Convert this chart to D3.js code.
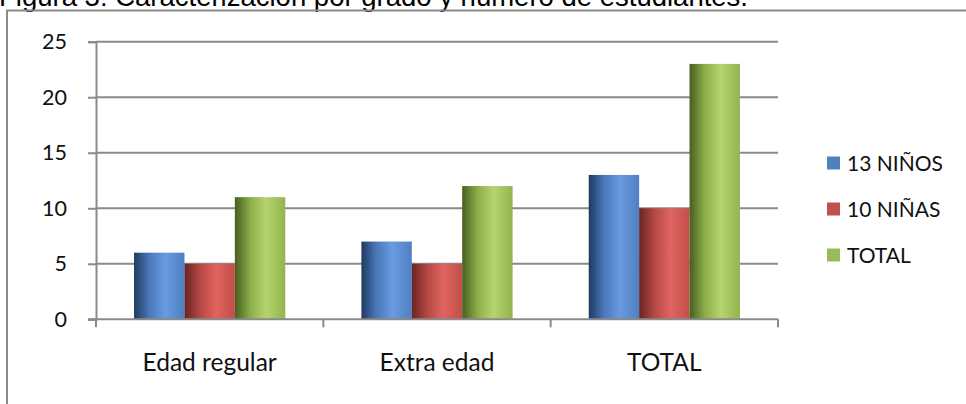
<!DOCTYPE html>
<html>
<head>
<meta charset="utf-8">
<script src="https://cdn.jsdelivr.net/npm/d3@7"></script>
<style>
  html, body { margin: 0; padding: 0; background: #fff; overflow: hidden; }
  svg { display: block; }
</style>
</head>
<body>
<svg id="chart" width="966" height="404"></svg>
<script>
// ---- Data ----
const title = "Figura 3: Caracterización por grado y número de estudiantes.";
const categories = ["Edad regular", "Extra edad", "TOTAL"];
const seriesNames = ["13 NIÑOS", "10 NIÑAS", "TOTAL"];
const ninos = [6, 7, 13];
const ninas = [5, 5, 10];
const total = [11, 12, 23];
const yTicks = [0, 5, 10, 15, 20, 25];

const seriesValues = [ninos, ninas, total];
const seriesColors = ["#4f81bd", "#c0504d", "#9bbb59"];
const gradStops = [
  ["#1f3a60", "#4a78b8", "#6a9be0", "#4e7fc2"],
  ["#682422", "#b44744", "#e0645f", "#c24e4a"],
  ["#475f1f", "#8aac4a", "#b5d46e", "#92b44e"]
];

const svg = d3.select("#chart");
const fontUI = "Lato, 'Open Sans', sans-serif";

// gradients
const defs = svg.append("defs");
gradStops.forEach((stops, i) => {
  const g = defs.append("linearGradient").attr("id", "grad" + i)
    .attr("x1", "0%").attr("x2", "100%").attr("y1", "0%").attr("y2", "0%");
  [0, 0.3, 0.62, 1].forEach((o, j) => {
    g.append("stop").attr("offset", o).attr("stop-color", stops[j]);
  });
});

// title (cut at top, as in the reference)
svg.append("text")
  .attr("x", -1).attr("y", 6)
  .attr("font-family", "'Liberation Sans', Arial, sans-serif")
  .attr("font-size", 27.5)
  .attr("fill", "#000")
  .text(title);

// chart border
svg.append("rect")
  .attr("x", 7).attr("y", 10.5)
  .attr("width", 1000).attr("height", 500)
  .attr("fill", "none").attr("stroke", "#8a8a8a").attr("stroke-width", 2);

// scales
const plot = { left: 96, right: 778, top: 41.7, bottom: 319.3 };
const x = d3.scaleBand().domain(categories).range([plot.left, plot.right]).padding(0);
const xs = d3.scaleBand().domain(d3.range(seriesNames.length))
  .range([0, x.bandwidth()]).paddingInner(0).paddingOuter(0.755);
const y = d3.scaleLinear().domain([0, 25]).range([plot.bottom, plot.top]);

const gridColor = "#8a8a8a";

// gridlines
svg.append("g").selectAll("line").data(yTicks.filter(d => d > 0)).join("line")
  .attr("x1", plot.left).attr("x2", plot.right)
  .attr("y1", d => y(d)).attr("y2", d => y(d))
  .attr("stroke", gridColor).attr("stroke-width", 2);

// bars
const groups = svg.append("g").selectAll("g").data(categories).join("g")
  .attr("transform", d => `translate(${x(d)},0)`);
groups.each(function(cat, ci) {
  d3.select(this).selectAll("rect").data(seriesValues.map((s, si) => ({ si, v: s[ci] })))
    .join("rect")
    .attr("x", d => xs(d.si))
    .attr("width", xs.bandwidth())
    .attr("y", d => y(d.v))
    .attr("height", d => y(0) - y(d.v))
    .attr("fill", d => `url(#grad${d.si})`);
});

// y axis
const yAxis = d3.axisLeft(y).tickValues(yTicks).tickSize(8).tickPadding(21).tickFormat(d3.format("d"));
const yg = svg.append("g").attr("transform", `translate(${plot.left},0)`).call(yAxis);
yg.select(".domain").attr("stroke", gridColor).attr("stroke-width", 2);
yg.selectAll(".tick line").attr("stroke", gridColor).attr("stroke-width", 2);
yg.selectAll(".tick text").attr("font-family", fontUI).attr("font-size", 21.5).attr("fill", "#111");

// x axis
const xg = svg.append("g").attr("transform", `translate(0,${plot.bottom})`);
xg.append("line").attr("x1", plot.left - 8).attr("x2", plot.right)
  .attr("y1", 0).attr("y2", 0).attr("stroke", gridColor).attr("stroke-width", 2);
const boundaries = categories.map(c => x(c)).concat([plot.right]);
xg.selectAll("line.tk").data(boundaries).join("line").attr("class", "tk")
  .attr("x1", d => d).attr("x2", d => d).attr("y1", 0).attr("y2", 8)
  .attr("stroke", gridColor).attr("stroke-width", 2);
xg.selectAll("text").data(categories).join("text")
  .attr("x", d => x(d) + x.bandwidth() / 2)
  .attr("y", 371 - plot.bottom)
  .attr("text-anchor", "middle")
  .attr("font-family", fontUI).attr("font-size", 24.5).attr("fill", "#111")
  .text(d => d);

// legend
const legend = svg.append("g").attr("transform", "translate(827,163)");
const li = legend.selectAll("g").data(seriesNames).join("g")
  .attr("transform", (d, i) => `translate(0,${i * 46})`);
li.append("rect").attr("x", 0).attr("y", -6.5).attr("width", 13).attr("height", 13)
  .attr("fill", (d, i) => seriesColors[i]);
li.append("text").attr("x", 20).attr("y", 0).attr("dy", "0.36em")
  .attr("font-family", fontUI).attr("font-size", 21).attr("fill", "#111")
  .text(d => d);
</script>
</body>
</html>
